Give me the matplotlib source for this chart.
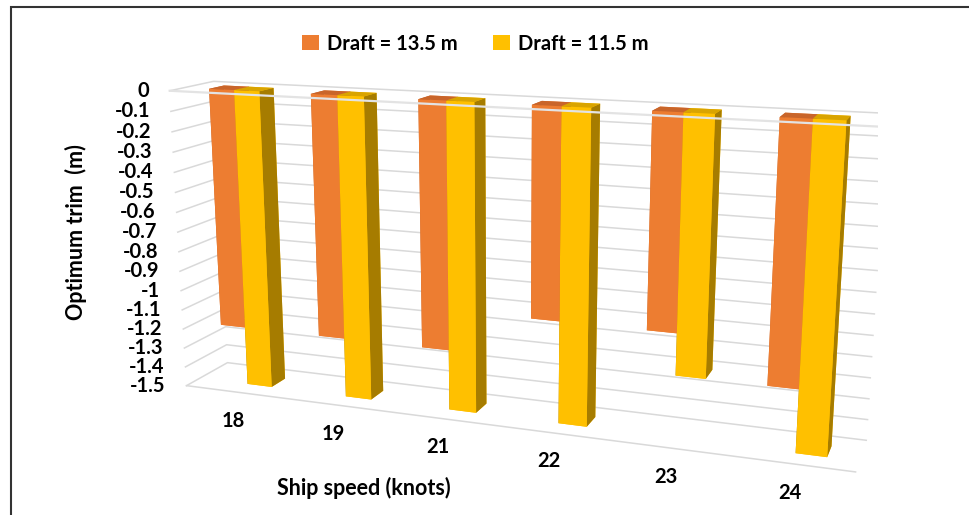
import numpy as np
import matplotlib
matplotlib.use("Agg")
import matplotlib.pyplot as plt
from matplotlib.patches import Patch, Rectangle
from mpl_toolkits.mplot3d import proj3d

plt.rcParams['font.family'] = ['Lato', 'DejaVu Sans']

# ---- data ----
speeds = ["18", "19", "21", "22", "23", "24"]
trim_draft_13_5 = [-1.2, -1.2, -1.2, -1.0, -1.0, -1.2]
trim_draft_11_5 = [-1.5, -1.5, -1.5, -1.5, -1.2, -1.5]
value_ticks = [0, -0.1, -0.2, -0.3, -0.4, -0.5, -0.6, -0.7, -0.8, -0.9,
               -1, -1.1, -1.2, -1.3, -1.4, -1.5]
series_names = ["Draft = 13.5 m", "Draft = 11.5 m"]

# ---- style ----
ORANGE = "#ED7D31"
ORANGE_TOP = "#C9652A"
YELLOW = "#FFC000"
YELLOW_TOP = "#D9A400"
YELLOW_SIDE = "#A67C00"
GRID = "#D9D9D9"

W, H = 970, 515
fig = plt.figure(figsize=(W / 100, H / 100), dpi=100)
ax = fig.add_axes([0.1216, -0.264, 0.7835, 1.476], projection='3d',
                  computed_zorder=False)
ax.set_proj_type('persp', focal_length=0.35)
ax.view_init(elev=14, azim=-70)

n = len(speeds)
xmin, xmax = 0.0, float(n)
ymin, ymax = 0.0, 1.0
zmin, zmax = min(value_ticks), max(value_ticks)
ax.set_xlim(xmin, xmax)
ax.set_ylim(ymin, ymax)
ax.set_zlim(zmin, zmax)
ax.set_xticks([])
ax.set_yticks([])
ax.set_zticks([])
ax.set_box_aspect((6, 0.72, 2.7), zoom=1.0)
ax.set_axis_off()

# walls: horizontal gridlines on the left wall and the back wall
for v in value_ticks:
    ax.plot([xmin, xmin, xmax], [ymin, ymax, ymax], [v, v, v],
            color=GRID, lw=1.1, zorder=1)
# front edge of the floor
ax.plot([xmin, xmax], [ymin, ymin], [zmin, zmin], color=GRID, lw=1.1,
        zorder=1)

# bars
width = 0.25
depth = 0.35
y0 = 0.5 - depth / 2
centers = np.arange(n) + 0.5
xs, ys, zs, dxs, dys, dzs, fcs = [], [], [], [], [], [], []
for i in range(n):
    for j, (vals, front, top, side) in enumerate(
            [(trim_draft_13_5, ORANGE, ORANGE_TOP, ORANGE_TOP),
             (trim_draft_11_5, YELLOW, YELLOW_TOP, YELLOW_SIDE)]):
        v = vals[i]
        xs.append(centers[i] - width + j * width)
        ys.append(y0)
        zs.append(v)
        dxs.append(width)
        dys.append(depth)
        dzs.append(-v)
        # face order: bottom, top, front, back, left, right
        fcs.extend([front, top, front, front, side, side])
ax.bar3d(xs, ys, zs, dxs, dys, dzs, color=fcs, shade=False,
         edgecolor='none', linewidth=0, zorder=2)

# category axis line at zero along the front edge
ax.plot([xmin, xmax], [ymin, ymin], [0, 0], color="#E3E3E3", lw=1.6,
        zorder=3)

# labels are placed in figure pixels at the projected 3D anchor points
fig.canvas.draw()
M = ax.get_proj()


def to_fig(x, y, z, dx=0.0, dy=0.0):
    px, py, _ = proj3d.proj_transform(x, y, z, M)
    disp = ax.transData.transform((px, py))
    return (disp[0] + dx) / W, (disp[1] + dy) / H


for v in value_ticks:
    fx, fy = to_fig(xmin, ymin, v, dx=-21)
    fig.text(fx, fy, f"{v:g}", ha='right', va='center',
             fontsize=14.5, fontweight='bold')

for i, s in enumerate(speeds):
    fx, fy = to_fig(centers[i], ymin, zmin, dx=-1, dy=-29)
    fig.text(fx, fy, s, ha='center', va='center',
             fontsize=14.5, fontweight='bold')

fig.text(0.078, 0.55, "Optimum trim  (m)", rotation=90, ha='center',
         va='center', fontsize=15.5, fontweight='bold')
fig.text(0.375, 0.052, "Ship speed (knots)", ha='center', va='center',
         fontsize=15.5, fontweight='bold')

handles = [Patch(facecolor=ORANGE), Patch(facecolor=YELLOW)]
fig.legend(handles, series_names, loc='center', bbox_to_anchor=(0.49, 0.915),
           ncol=2, frameon=False, prop={'weight': 'bold', 'size': 14.5},
           handlelength=0.8, handleheight=0.8, handletextpad=0.4,
           columnspacing=1.8)

# chart border
fig.patches.append(Rectangle((11 / W, -0.1), 1.2, 1 - 7 / H + 0.1,
                             transform=fig.transFigure, fill=False,
                             edgecolor="#333333", lw=1.5))

fig.savefig("out.png", dpi=100, facecolor='white')
